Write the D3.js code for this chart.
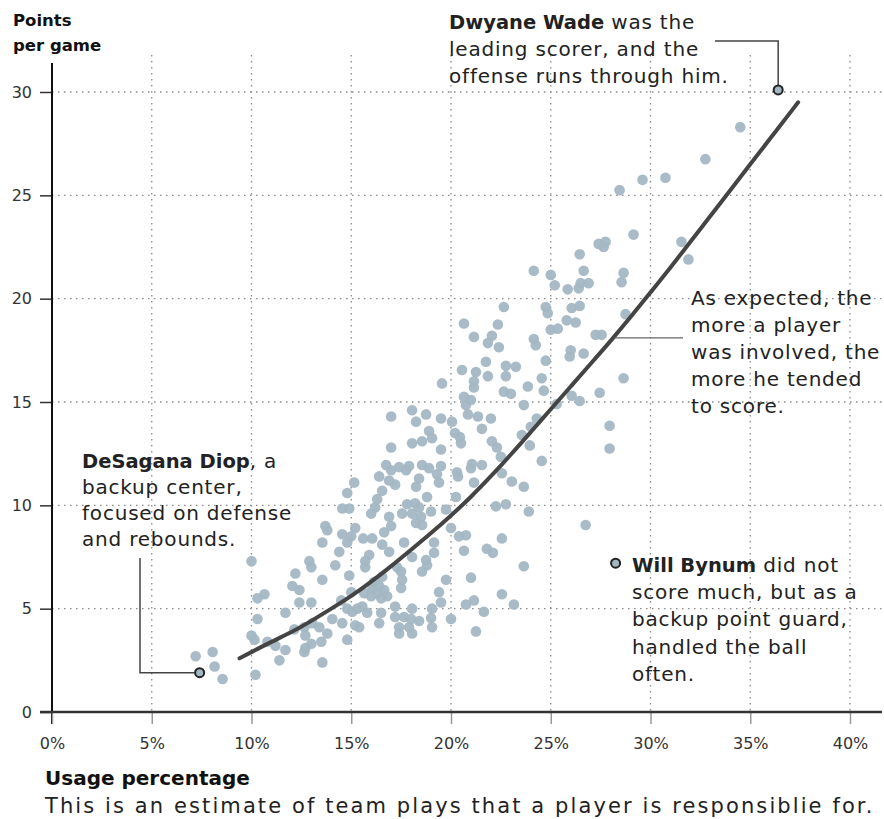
<!DOCTYPE html>
<html><head><meta charset="utf-8">
<script src="https://cdn.jsdelivr.net/npm/d3@7"></script>
<style>body{margin:0;background:#fff} svg text{font-family:"DejaVu Sans",sans-serif}</style>
</head><body><svg id="c" width="884" height="819"></svg>
<script>
// ---- data ----
const usagePct = [7.2,8.05,8.15,8.55,10.0,10.3,10.65,10.3,10.0,10.15,10.2,10.8,11.2,11.4,11.7,11.7,12.05,12.2,12.4,12.4,12.15,12.65,12.7,13.0,12.7,12.65,13.05,13.4,13.5,13.8,13.55,12.9,13.0,13.0,14.05,13.55,13.7,13.8,13.55,14.2,14.4,14.55,14.55,14.8,14.9,15.15,15.0,14.8,15.2,15.6,16.05,15.9,15.7,15.7,14.5,14.8,15.05,15.3,15.55,15.8,14.55,15.2,15.4,14.8,14.9,15.0,15.65,16.0,16.05,16.15,16.3,16.0,16.2,16.3,16.4,16.55,16.4,16.4,16.55,16.65,17.0,16.75,16.9,17.0,17.2,17.4,17.0,17.0,18.05,18.75,18.25,18.9,19.05,18.05,18.55,19.5,19.5,17.75,17.9,18.55,18.9,19.3,18.4,18.25,19.4,16.9,17.55,17.8,18.2,18.4,18.05,18.5,19.0,18.8,18.25,18.55,17.65,19.15,16.9,19.15,18.05,18.75,17.3,17.5,18.8,18.55,16.55,17.55,17.5,16.65,16.8,16.5,19.4,19.75,17.2,18.05,19.05,19.5,16.5,17.2,17.65,18.0,18.4,19.0,17.4,17.9,19.05,17.4,18.05,19.55,19.5,20.05,20.2,20.45,20.5,20.55,20.65,21.15,22.05,21.85,22.4,22.35,22.65,21.25,21.75,21.15,21.15,21.85,20.65,21.0,20.75,20.85,21.35,22.0,21.55,22.05,22.3,22.5,21.05,21.55,21.0,20.3,20.35,21.15,20.25,19.75,22.25,20.0,20.4,20.75,20.65,21.8,22.1,21.0,21.15,20.75,21.65,20.0,21.25,22.75,23.25,22.75,22.65,23.0,23.85,23.65,23.55,24.0,23.95,22.55,23.05,23.65,22.75,23.9,22.55,23.65,22.55,23.15,24.15,25.0,25.2,24.75,24.85,24.15,24.25,25.0,25.35,24.75,24.55,24.65,25.3,24.3,24.55,25.8,25.85,26.45,26.65,26.5,26.9,26.4,27.4,27.75,27.65,29.15,28.65,28.55,26.05,26.45,26.25,28.75,27.25,27.55,26.0,25.95,26.65,28.65,27.45,26.05,26.45,27.95,27.95,26.75,28.45,29.6,30.75,32.75,34.5,31.55,31.9];
const pointsPerGame = [2.7,2.9,2.2,1.6,7.3,5.5,5.7,4.5,3.7,3.5,1.8,3.4,3.2,2.5,3.0,4.8,6.1,6.7,5.9,5.3,4.0,4.1,3.7,3.3,3.1,2.9,4.3,4.1,3.4,3.8,2.4,7.3,7.0,5.3,4.5,6.4,9.0,8.8,8.2,7.1,7.75,8.6,9.85,10.6,9.85,11.1,8.5,8.2,8.9,8.4,8.4,7.6,7.3,7.0,5.4,5.0,4.85,5.0,5.1,4.8,4.3,4.2,4.1,3.5,6.6,5.8,5.75,5.6,5.95,6.3,5.75,9.6,9.9,10.3,11.4,10.7,6.1,4.3,8.1,8.7,9.0,11.95,11.2,11.7,11.0,11.85,12.8,14.3,14.6,14.4,14.05,13.6,13.25,13.0,13.1,14.2,12.7,11.7,11.9,11.95,11.8,11.5,11.3,10.9,11.1,9.45,9.6,10.05,10.1,9.9,9.6,9.45,9.7,10.4,9.15,9.05,8.2,8.2,7.75,7.7,7.5,7.35,7.0,6.8,7.1,6.8,6.55,6.4,6.0,5.9,5.6,5.5,5.8,6.4,5.1,5.0,5.0,5.3,4.8,4.6,4.6,4.5,4.4,4.55,4.1,4.1,4.1,3.8,3.8,15.9,11.9,14.05,13.5,13.3,13.0,16.55,18.8,18.15,18.2,17.85,17.65,18.75,19.6,16.45,16.95,16.0,15.7,16.25,15.25,15.1,14.85,14.4,14.3,14.2,13.7,13.1,12.8,12.35,12.0,11.95,11.8,11.6,11.4,11.1,10.4,9.8,9.95,8.9,8.5,8.55,7.8,7.9,7.7,6.5,5.4,5.2,4.85,4.5,3.9,16.75,16.7,16.25,15.5,15.4,15.75,14.85,13.4,13.8,12.9,11.55,11.15,10.9,10.05,9.7,8.4,7.05,5.7,5.2,21.35,21.15,20.65,19.6,19.3,18.05,17.75,18.5,18.55,17.0,16.15,15.55,14.9,14.2,12.15,18.95,20.45,22.15,21.35,20.75,20.75,20.5,22.65,22.75,22.5,23.1,21.25,20.8,19.55,19.65,18.85,19.25,18.25,18.25,17.5,17.2,17.35,16.15,15.45,15.3,15.05,13.85,12.75,9.05,25.25,25.75,25.85,26.75,28.3,22.75,21.9];
const fitUsage = [9.4,10,11,12,13,14,15,16,17,18,19,20,21,22,23,24,25,26,27,28,29,30,31,32,33,34,35,36,37.4];
const fitPoints = [2.6,2.9,3.4,3.85,4.4,5.0,5.6,6.3,7.05,7.85,8.65,9.5,10.4,11.4,12.45,13.55,14.65,15.75,16.85,17.95,19.1,20.3,21.5,22.75,24.0,25.25,26.5,27.75,29.5];
const xTickValues = [0,5,10,15,20,25,30,35,40];
const yTickValues = [0,5,10,15,20,25,30];
const highlightNames = ["Dwyane Wade","DeSagana Diop","Will Bynum"];
const highlightUsage = [36.4,7.4,28.25];
const highlightPoints = [30.1,1.9,7.2];

// ---- chart ----
const svg = d3.select("#c");
svg.append("rect").attr("width",884).attr("height",819).attr("fill","#fff");
const x = d3.scaleLinear().domain([0,40]).range([52,850]);
const y = d3.scaleLinear().domain([0,30]).range([712,92]);

const grid = svg.append("g").attr("stroke","#8a8a8a").attr("stroke-width",1.3).attr("stroke-dasharray","1.5,4.5");
grid.selectAll(".h").data(yTickValues.filter(d=>d>0)).join("line")
  .attr("x1",52).attr("x2",882).attr("y1",d=>y(d)).attr("y2",d=>y(d));
grid.selectAll(".v").data(xTickValues.filter(d=>d>0)).join("line")
  .attr("x1",d=>x(d)).attr("x2",d=>x(d)).attr("y1",55).attr("y2",712);

// y axis
const ya = svg.append("g").attr("transform","translate(52,0)")
  .call(d3.axisLeft(y).tickValues(yTickValues).tickSize(12).tickPadding(8));
ya.select(".domain").remove();
ya.selectAll(".tick line").attr("stroke","#333").attr("stroke-width",1.5);
ya.selectAll(".tick text").attr("font-size",16).attr("fill","#333").style("font-family","DejaVu Sans");
svg.append("line").attr("x1",52).attr("x2",52).attr("y1",63).attr("y2",724).attr("stroke","#111").attr("stroke-width",2);

// x axis
const xa = svg.append("g").attr("transform","translate(0,712)")
  .call(d3.axisBottom(x).tickValues(xTickValues).tickSize(12).tickPadding(14).tickFormat(d=>d+"%"));
xa.select(".domain").remove();
xa.selectAll(".tick line").attr("stroke","#999").attr("stroke-width",1.5);
xa.selectAll(".tick text").attr("font-size",16).attr("fill","#333").style("font-family","DejaVu Sans");
svg.append("line").attr("x1",40).attr("x2",882).attr("y1",712).attr("y2",712).attr("stroke","#333").attr("stroke-width",2.5);

// points
svg.append("g").selectAll("circle").data(usagePct.map((u,i)=>[u,pointsPerGame[i]])).join("circle")
  .attr("cx",d=>x(d[0])).attr("cy",d=>y(d[1])).attr("r",5.3)
  .attr("fill","#a3b7c3").attr("fill-opacity",0.95);

// fit line
svg.append("path").datum(fitUsage.map((u,i)=>[u,fitPoints[i]]))
  .attr("d",d3.line().x(d=>x(d[0])).y(d=>y(d[1])).curve(d3.curveBasis))
  .attr("fill","none").attr("stroke","#444").attr("stroke-width",4).attr("stroke-linecap","round");

// leaders
const L = svg.append("g").attr("fill","none").attr("stroke","#444").attr("stroke-width",1.5);
const wx = x(highlightUsage[0]), wy = y(highlightPoints[0]);
L.append("path").attr("d",`M715,41H${wx}V${wy-5}`);
const dx = x(highlightUsage[1]), dy = y(highlightPoints[1]);
L.append("path").attr("d",`M140,558V${dy}H${dx-5}`);
L.append("line").attr("x1",x(28.2)).attr("x2",683).attr("y1",y(18.1)).attr("y2",y(18.1)).attr("stroke","#666").attr("stroke-width",1.3);

// highlight circles
svg.append("g").selectAll("circle").data(highlightNames.map((n,i)=>[highlightUsage[i],highlightPoints[i]])).join("circle")
  .attr("cx",d=>x(d[0])).attr("cy",d=>y(d[1])).attr("r",4.5)
  .attr("fill","#a3b7c3").attr("stroke","#222").attr("stroke-width",2);

// text helper
function block(x0, y0, lh, lines){
  const t = svg.append("text").attr("fill","#222");
  lines.forEach((ln,i)=>{
    const parts = Array.isArray(ln)?ln:[[ln,false]];
    parts.forEach((p,j)=>{
      const ts = t.append("tspan").text(p[0])
        .attr("font-weight",p[1]?"bold":"normal")
        .attr("font-size",p[1]?19.5:20)
        .attr("letter-spacing",p[1]?0:0.8);
      if(j===0) ts.attr("x",x0).attr("y",y0+i*lh);
    });
  });
  return t;
}
block(449,29,27,[[[highlightNames[0],true],[" was the",false]],"leading scorer, and the","offense runs through him."]);
block(691,305,27,["As expected, the","more a player","was involved, the","more he tended","to score."]);
block(82,468,26,[[[highlightNames[1],true],[", a",false]],"backup center,","focused on defense","and rebounds."]);
block(632,572,27.2,[[[highlightNames[2],true],[" did not",false]],"score much, but as a","backup point guard,","handled the ball","often."]);

// titles
svg.append("text").attr("x",13).attr("y",26).attr("font-size",16.5).attr("font-weight","bold").attr("fill","#111").text("Points");
svg.append("text").attr("x",13).attr("y",51).attr("font-size",16.5).attr("font-weight","bold").attr("fill","#111").text("per game");
svg.append("text").attr("x",45).attr("y",785).attr("font-size",20).attr("font-weight","bold").attr("fill","#111").text("Usage percentage");
svg.append("text").attr("x",45).attr("y",813).attr("font-size",21).attr("letter-spacing",2.1).attr("fill","#222").text("This is an estimate of team plays that a player is responsiblie for.");
</script></body></html>
